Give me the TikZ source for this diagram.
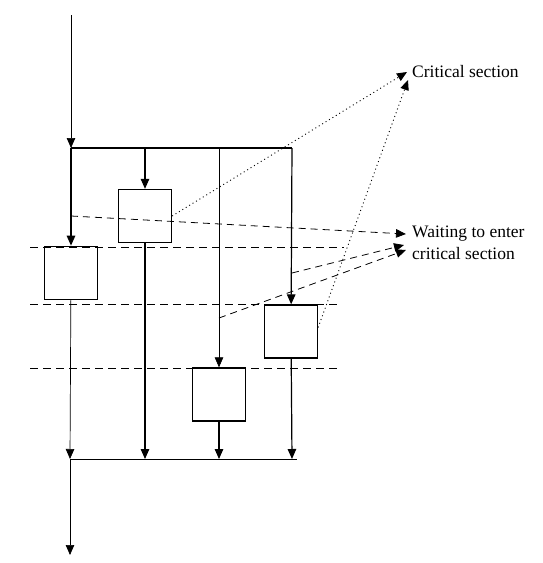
\documentclass[tikz,border=0pt]{standalone}
\usepackage{fontspec}
\setmainfont{Liberation Serif}
\usetikzlibrary{arrows.meta, positioning, calc}

\begin{document}
\begin{tikzpicture}[x=1pt,y=-1pt,>={Triangle[length=10pt,width=8.5pt]},
    proc/.style={draw, line width=1.3pt, minimum width=53pt, minimum height=53pt, inner sep=0pt},
    thinproc/.style={proc, line width=0.7pt},
    flow/.style={->, line width=1.2pt},
    thinflow/.style={->, line width=0.7pt},
    level/.style={dash pattern=on 8pt off 5pt, line width=0.9pt},
    waitarrow/.style={->, dash pattern=on 7pt off 5pt, line width=0.8pt},
    enterarrow/.style={->, dash pattern=on 1pt off 3pt, line width=0.9pt},
    lbl/.style={font=\fontsize{17.5}{22}\selectfont, align=left, anchor=west, inner sep=0pt}]
    \useasboundingbox (0,0) rectangle (543,563);

    % processes
    \node[thinproc] (boxA) at (71,272.5) {};
    \node[proc] (boxB) at (145,216) {};
    \node[proc] (boxC) at (219,394.5) {};
    \node[proc] (boxD) at (291,331.5) {};

    % labels
    \node[lbl] (crit) at (412,72) {Critical section};
    \node[lbl] (wait) at (412,243) {Waiting to enter\\critical section};

    % fork and join points
    \coordinate (in) at (71,15);
    \coordinate (t1) at (71,148);
    \coordinate (t2) at (145,148);
    \coordinate (t3) at (219,148);
    \coordinate (t4) at (292,148);
    \coordinate (b1) at (70,459);
    \coordinate (b2) at (145,459);
    \coordinate (b3) at (219,459);
    \coordinate (b4) at (292,459);
    \coordinate (bend) at (297,459);
    \coordinate (out) at (70,555);

    % control flow
    \draw[thinflow] (in) -- (t1);
    \draw[line width=1.2pt] (t1) -- (t4);
    \draw[flow] (t1) -- (boxA);
    \draw[flow] (t2) -- (boxB);
    \draw[thinflow] (t3) -- (boxC);
    \draw[flow] (t4) -- (boxD);
    \draw[thinflow] (boxA) -- (b1);
    \draw[flow] (boxB) -- (b2);
    \draw[flow] (boxC) -- (b3);
    \draw[flow] (boxD) -- (b4);
    \draw[line width=0.8pt] (b1) -- (bend);
    \draw[thinflow] (b1) -- (out);

    % barriers
    \draw[level] (30,247) -- (344,247);
    \draw[level] (30,304) -- (337,304);
    \draw[level] (30,368) -- (337,368);

    % waiting arrows
    \coordinate (w0) at (71,216);
    \coordinate (w1) at (292,273);
    \coordinate (w2) at (219,318);
    \draw[waitarrow] (w0) -- ($(wait.west)+(-6,-9)$);
    \draw[waitarrow] (w1) -- ($(wait.west)+(-8,2)$);
    \draw[waitarrow] (w2) -- ($(wait.west)+(-6,7)$);

    % entering arrows
    \draw[enterarrow] (boxB.east) -- ($(crit.west)+(-5,0)$);
    \draw[enterarrow] ($(boxD.east)+(0,-4)$) -- ($(crit.west)+(-4,8)$);
\end{tikzpicture}
\end{document}
